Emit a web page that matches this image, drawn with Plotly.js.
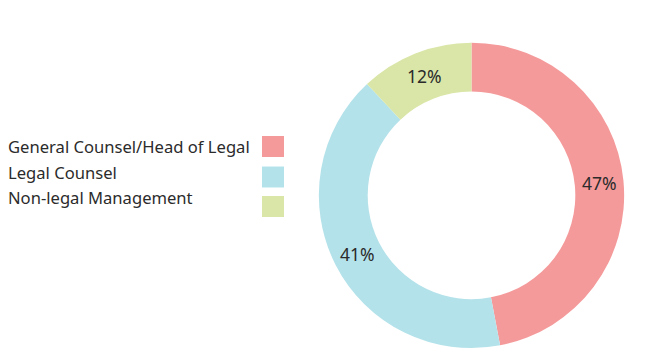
<!DOCTYPE html>
<html>
<head>
<meta charset="utf-8">
<script src="https://cdn.plot.ly/plotly-3.0.1.min.js"></script>
<style>html,body{margin:0;padding:0;background:#fff;}#chart{width:650px;height:350px;}</style>
</head>
<body>
<div id="chart"></div>
<script>
const categories = ["General Counsel/Head of Legal", "Legal Counsel", "Non-legal Management"];
const shares = [47, 41, 12];
const colors = ["#f59a9b", "#b4e2ea", "#d9e6a7"];

const W = 650, H = 350;
const FONT = "Noto Sans, sans-serif";

const trace = {
  type: "pie",
  labels: categories,
  values: shares,
  hole: 0.68,
  sort: false,
  direction: "clockwise",
  rotation: 0,
  marker: {colors: colors, line: {width: 0}},
  textinfo: "percent",
  texttemplate: "%{percent:.0%}",
  textposition: "inside",
  insidetextorientation: "horizontal",
  textfont: {family: FONT, size: 17.5, color: "#2b2b2b"},
  domain: {x: [317 / W, 626 / W], y: [1 - 348 / H, 1 - 42.7 / H]},
  showlegend: false,
  hoverinfo: "label+percent"
};

const annotations = [];
const shapes = [];
const textRows = [147, 172, 197];
const swatchTop = [136, 166.5, 196];
categories.forEach((c, i) => {
  annotations.push({
    xref: "paper", yref: "paper",
    x: 6 / W, y: 1 - textRows[i] / H,
    xanchor: "left", yanchor: "middle",
    text: c, showarrow: false,
    font: {family: FONT, size: 16.6, color: "#2b2b2b"}
  });
  shapes.push({
    type: "rect", xref: "paper", yref: "paper",
    x0: 262 / W, x1: 284 / W,
    y0: 1 - (swatchTop[i] + 21) / H, y1: 1 - swatchTop[i] / H,
    fillcolor: colors[i], line: {width: 0}
  });
});

const layout = {
  width: W, height: H,
  margin: {l: 0, r: 0, t: 0, b: 0},
  paper_bgcolor: "#ffffff",
  showlegend: false,
  annotations: annotations,
  shapes: shapes
};

Plotly.newPlot("chart", [trace], layout, {displayModeBar: false, staticPlot: true});
</script>
</body>
</html>
